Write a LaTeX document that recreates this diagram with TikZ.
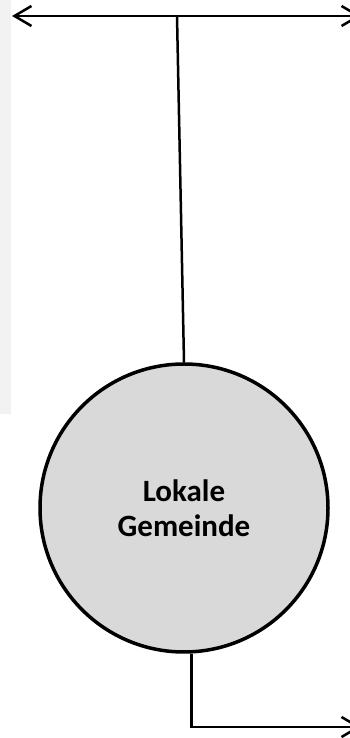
\documentclass[tikz,border=0pt]{standalone}
\usepackage{fontspec}
\setmainfont{Carlito}
\usetikzlibrary{arrows.meta}
\definecolor{clrGem} {RGB}{217,217,217}
\definecolor{clrStrip}{RGB}{242,242,242}
\tikzset{
  gemnode/.style={circle, draw=black, line width=3.5pt, fill=clrGem, minimum size=288pt,
    inner sep=0pt, align=center, font=\bfseries\fontsize{31}{35}\selectfont},
  link/.style={line width=2.5pt, color=black},
  arr/.style={-{Straight Barb[length=17pt,width=20pt,line width=2.5pt]}, line width=2.5pt},
  dblarr/.style={{Straight Barb[length=17pt,width=20pt,line width=2.5pt]}-{Straight Barb[length=17pt,width=20pt,line width=2.5pt]}, line width=2.5pt},
}

\begin{document}
\begin{tikzpicture}[x=1pt, y=1pt]
\useasboundingbox (0,0) rectangle (349,738);
\fill[clrStrip] (0,738) rectangle (11,324);
\coordinate (west) at (12,722);
\coordinate (east) at (361,722);
\coordinate (tee)  at (177,722);
\coordinate (out)  at (361,11);
\node[gemnode] (gem) at (184,230) {Lokale\\Gemeinde};
\draw[dblarr] (west) -- (east);
\draw[link] (tee) -- (gem.north);
\draw[arr] (gem.-87) |- (out);
\end{tikzpicture}
\end{document}
